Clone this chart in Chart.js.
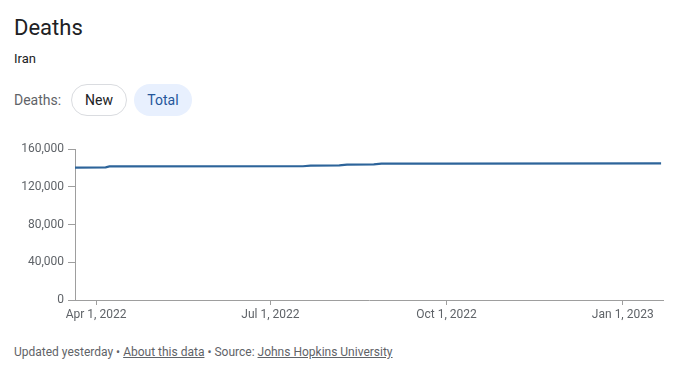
<!DOCTYPE html>
<html>
<head>
<meta charset="utf-8">
<script src="https://cdn.jsdelivr.net/npm/chart.js@4"></script>
<style>
  html, body { margin: 0; padding: 0; background: #fff; }
  body { width: 695px; height: 375px; position: relative; overflow: hidden; font-family: Roboto, Arial, sans-serif; }
  .title { position: absolute; left: 14px; top: 15px; font-size: 22px; color: #202124; }
  .sub { position: absolute; left: 14px; top: 51px; font-size: 13px; color: #202124; }
  .lbl { position: absolute; left: 14px; top: 92px; font-size: 14px; color: #5f6368; }
  .chip { position: absolute; top: 84px; height: 30px; line-height: 30px; border-radius: 16px; font-size: 14px; text-align: center; }
  .new { left: 71px; width: 54px; border: 1px solid #dadce0; color: #202124; }
  .total { left: 134px; width: 58px; height: 32px; line-height: 32px; background: #e8f0fe; color: #24569b; }
  .foot { position: absolute; left: 14px; top: 345px; font-size: 12px; color: #5f6368; }
  .foot u { text-decoration: underline; }
  #wrap { position: absolute; left: 0; top: 138px; width: 695px; height: 200px; }
</style>
</head>
<body>
<div class="title">Deaths</div>
<div class="sub">Iran</div>
<div class="lbl">Deaths:</div>
<div class="chip new">New</div>
<div class="chip total">Total</div>
<div id="wrap"><canvas id="myChart"></canvas></div>
<div class="foot">Updated yesterday • <u>About this data</u> • Source: <u>Johns Hopkins University</u></div>

<script>
const dates = ["2022-03-20", "2022-04-06", "2022-04-08", "2022-07-18", "2022-07-22", "2022-08-06", "2022-08-10", "2022-08-24", "2022-08-28", "2022-10-01", "2023-01-21"];
const totals = [140500, 140700, 141700, 141900, 142600, 142900, 143600, 143900, 144600, 144800, 144900];

const tickDays = [90, 181, 273, 365];
const tickLabels = ["Apr 1, 2022", "Jul 1, 2022", "Oct 1, 2022", "Jan 1, 2023"];

const lineColor = "#2d649a";
const axisColor = "#9e9e9e";
const textColor = "#5f6368";

function dayOf(s) {
  const p = s.split("-").map(Number);
  return (Date.UTC(p[0], p[1] - 1, p[2]) - Date.UTC(2022, 0, 1)) / 86400000;
}

const points = dates.map((d, i) => ({ x: dayOf(d), y: totals[i] }));

const ctx = document.getElementById("myChart");

new Chart(ctx, {
  type: "line",
  data: {
    datasets: [
      {
        label: "Total",
        data: points,
        borderColor: lineColor,
        borderWidth: 2.2,
        pointRadius: 0,
        tension: 0,
      },
    ],
  },
  options: {
    responsive: true,
    maintainAspectRatio: false,
    animation: false,
    layout: { padding: { top: 10, right: 32, bottom: 0, left: 0 } },
    plugins: { legend: { display: false }, tooltip: { enabled: false } },
    scales: {
      x: {
        type: "linear",
        min: 79,
        max: 386,
        afterBuildTicks: (s) => { s.ticks = tickDays.map((v) => ({ value: v })); },
        afterFit: (s) => { s.height = 38; },
        grid: { drawOnChartArea: false, color: axisColor, tickLength: 5 },
        border: { color: axisColor },
        ticks: {
          color: textColor,
          font: { family: "Roboto", size: 12 },
          padding: 3,
          maxRotation: 0,
          autoSkip: false,
          callback: (v) => tickLabels[tickDays.indexOf(v)],
        },
      },
      y: {
        min: 0,
        max: 160000,
        afterFit: (s) => { s.width = 75; },
        grid: { drawOnChartArea: false, color: axisColor, tickLength: 7 },
        border: { color: axisColor },
        ticks: {
          stepSize: 40000,
          color: textColor,
          font: { family: "Roboto", size: 12 },
          padding: 4,
          callback: (v) => v.toLocaleString("en-US"),
        },
      },
    },
  },
});
</script>
</body>
</html>
